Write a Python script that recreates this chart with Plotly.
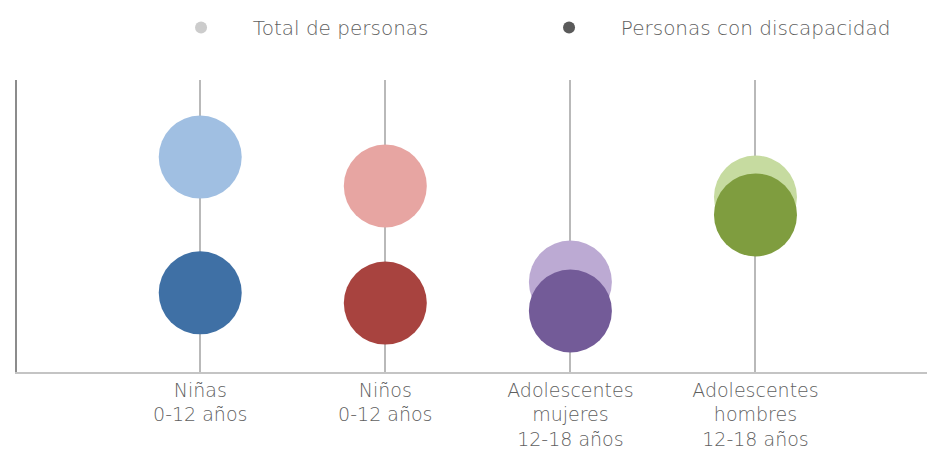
import plotly.graph_objects as go

# Categories and values (y scale 0-100, no ticks shown in the original).
categorias = ["Niñas<br>0-12 años", "Niños<br>0-12 años",
              "Adolescentes<br>mujeres<br>12-18 años", "Adolescentes<br>hombres<br>12-18 años"]
total_personas = [73.6, 63.7, 30.8, 59.9]
con_discapacidad = [27.1, 23.6, 20.9, 53.8]

colores_claros = ["#a0bfe2", "#e7a5a2", "#bcaad3", "#c6dba0"]
colores_oscuros = ["#3f70a5", "#a8433f", "#735b98", "#7f9d3f"]

x_pos = list(range(len(categorias)))

fuente = dict(family="DejaVu Sans", size=19, color="#5f5f5f", weight=200)

fig = go.Figure()

# Dots.
fig.add_trace(go.Scatter(
    x=x_pos, y=total_personas, mode="markers",
    marker=dict(size=83, color=colores_claros, line=dict(width=0)),
    showlegend=False, hoverinfo="skip"))
fig.add_trace(go.Scatter(
    x=x_pos, y=con_discapacidad, mode="markers",
    marker=dict(size=83, color=colores_oscuros, line=dict(width=0)),
    showlegend=False, hoverinfo="skip"))

# Legend entries (grey).
sp = "\u00a0" * 5
fig.add_trace(go.Scatter(x=[None], y=[None], mode="markers", name=sp + "Total de personas",
                         marker=dict(size=11, color="#cccccc")))
fig.add_trace(go.Scatter(x=[None], y=[None], mode="markers", name=sp + "Personas con discapacidad",
                         marker=dict(size=11, color="#5a5a5a")))

fig.update_xaxes(
    range=[-0.99, 3.97],
    tickvals=x_pos, ticktext=categorias,
    showgrid=True, gridcolor="#b9b9b9", gridwidth=2,
    showline=True, linecolor="#c4c4c4", linewidth=1.5,
    ticks="", zeroline=False,
    tickfont=fuente,
)
fig.update_yaxes(
    range=[0, 100], showticklabels=False, showgrid=False, zeroline=False,
    showline=True, linecolor="#8c8c8c", linewidth=2, ticks="",
)
# page body adds an 8px offset, so the figure is sized to compensate
fig.update_layout(
    width=927, height=445,
    margin=dict(l=9, r=0, t=72, b=81),
    plot_bgcolor="white", paper_bgcolor="white",
    legend=dict(orientation="h", x=0.1787, y=1.18, xanchor="left", yanchor="middle",
                entrywidth=323, entrywidthmode="pixels",
                font=dict(fuente, size=20), itemsizing="constant"),
)

fig.write_html("out.html")
